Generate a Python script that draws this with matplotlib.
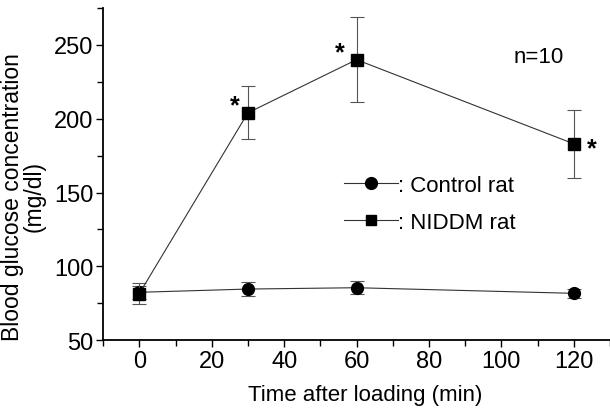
import numpy as np
import matplotlib
matplotlib.use("Agg")
import matplotlib.pyplot as plt
from matplotlib.lines import Line2D
from matplotlib.ticker import MultipleLocator

plt.rcParams['font.family'] = ['Liberation Sans', 'DejaVu Sans']

# data
time_min = [0, 30, 60, 120]
control_mean = [82.4, 84.6, 85.5, 81.7]
control_err = [4.5, 4.5, 4.5, 3.0]
niddm_mean = [81.5, 204, 240, 183]
niddm_err = [7.0, 18, 29, 23]
star_x = [26.5, 55.3, 125.0]
star_y = [209, 245, 180]

fig = plt.figure(figsize=(6.1, 4.1), dpi=100)
ax = fig.add_axes([0.169, 0.168, 0.831, 0.81])

line_col = '#333333'
ax.errorbar(time_min, control_mean, yerr=control_err, color=line_col, lw=0.8,
            marker='o', ms=8.5, mfc='black', mec='black', ecolor='#555555',
            elinewidth=0.8, capsize=5, capthick=0.8, zorder=3)
ax.errorbar(time_min, niddm_mean, yerr=niddm_err, color=line_col, lw=0.8,
            marker='s', ms=8, mfc='black', mec='black', ecolor='#555555',
            elinewidth=0.8, capsize=5, capthick=0.8, zorder=4)

for sx, sy in zip(star_x, star_y):
    ax.text(sx, sy, '*', fontsize=18, fontweight='bold', ha='center', va='center')

ax.text(110.4, 242, 'n=10', fontsize=16, ha='center', va='center')

handles = [Line2D([], [], color=line_col, lw=0.8, marker='o', ms=8.5, mfc='black', mec='black'),
           Line2D([], [], color=line_col, lw=0.8, marker='s', ms=7, mfc='black', mec='black')]
ax.legend(handles, [': Control rat', ': NIDDM rat'], loc='upper left',
          bbox_to_anchor=(0.453, 0.53), frameon=False, fontsize=16,
          handlelength=2.45, handletextpad=0.0, labelspacing=0.72, borderpad=0)

ax.set_xlim(-10, 130)
ax.set_ylim(50, 275)
ax.xaxis.set_major_locator(MultipleLocator(20))
ax.xaxis.set_minor_locator(MultipleLocator(10))
ax.yaxis.set_major_locator(MultipleLocator(50))
ax.yaxis.set_minor_locator(MultipleLocator(25))
ax.set_yticks([50, 100, 150, 200, 250])
ax.tick_params(axis='both', which='major', labelsize=17, length=5, width=1,
               direction='out', pad=2)
ax.tick_params(axis='both', which='minor', length=4, width=1, direction='out')

for side in ['top', 'right']:
    ax.spines[side].set_visible(False)
for side in ['left', 'bottom']:
    ax.spines[side].set_linewidth(1.3)

ax.set_xlabel('Time after loading (min)', fontsize=16, labelpad=9)
ax.xaxis.label.set_x(0.517)
ax.set_ylabel('Blood glucose concentration\n(mg/dl)', fontsize=16.5, labelpad=6, linespacing=0.9)
ax.yaxis.label.set_y(0.435)

fig.savefig('out.png', dpi=100)
